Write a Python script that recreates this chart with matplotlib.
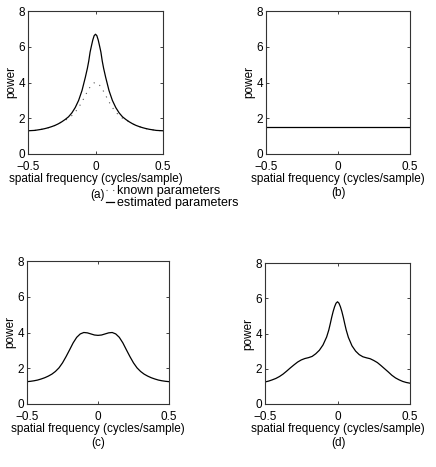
import matplotlib
matplotlib.use("Agg")
import matplotlib.pyplot as plt

plt.rcParams['font.family'] = ['Liberation Sans', 'DejaVu Sans']

# Spatial frequency grid for panel (a) (cycles/sample)
freq_a = [-0.5, -0.475, -0.45, -0.425, -0.4, -0.375, -0.35, -0.325, -0.3, -0.275,
          -0.25, -0.225, -0.2, -0.175, -0.15, -0.125, -0.1, -0.075, -0.06, -0.05,
          -0.04, -0.03, -0.02, -0.01, 0.0, 0.01, 0.02, 0.03, 0.04, 0.05, 0.06,
          0.075, 0.1, 0.125, 0.15, 0.175, 0.2, 0.225, 0.25, 0.275, 0.3, 0.325,
          0.35, 0.375, 0.4, 0.425, 0.45, 0.475, 0.5]
# (a) estimated parameters (solid)
est_a = [1.30, 1.31, 1.32, 1.35, 1.38, 1.42, 1.47, 1.53, 1.60, 1.69,
         1.80, 1.93, 2.08, 2.30, 2.60, 3.00, 3.55, 4.30, 4.80, 5.20,
         5.70, 6.05, 6.38, 6.62, 6.70, 6.62, 6.38, 6.05, 5.70, 5.20, 4.80,
         4.30, 3.55, 3.00, 2.60, 2.30, 2.08, 1.93, 1.80, 1.69, 1.60, 1.53,
         1.47, 1.42, 1.38, 1.35, 1.32, 1.31, 1.30]
# (a) known parameters (dotted)
known_a = [1.30, 1.31, 1.32, 1.35, 1.38, 1.42, 1.47, 1.53, 1.60, 1.69,
           1.80, 1.88, 2.00, 2.15, 2.35, 2.60, 2.92, 3.28, 3.50, 3.63,
           3.75, 3.85, 3.93, 3.98, 4.00, 3.98, 3.93, 3.85, 3.75, 3.63, 3.50,
           3.28, 2.92, 2.60, 2.35, 2.15, 2.00, 1.88, 1.80, 1.69, 1.60, 1.53,
           1.47, 1.42, 1.38, 1.35, 1.32, 1.31, 1.30]

# (b) flat spectrum
freq_b = [-0.5, 0.49]
power_b = [1.53, 1.53]

# (c) double-humped spectrum
freq_c = [-0.5, -0.475, -0.45, -0.425, -0.4, -0.375, -0.35, -0.325, -0.3, -0.275,
          -0.25, -0.225, -0.2, -0.175, -0.15, -0.125, -0.1, -0.075, -0.05, -0.025,
          0.0, 0.025, 0.05, 0.075, 0.1, 0.125, 0.15, 0.175, 0.2, 0.225,
          0.25, 0.275, 0.3, 0.325, 0.35, 0.375, 0.4, 0.425, 0.45, 0.475, 0.5]
power_c = [1.25, 1.27, 1.30, 1.34, 1.40, 1.47, 1.56, 1.67, 1.82, 2.02,
           2.30, 2.65, 3.03, 3.42, 3.73, 3.92, 4.00, 3.98, 3.92, 3.86,
           3.84, 3.86, 3.92, 3.98, 4.00, 3.92, 3.73, 3.42, 3.03, 2.65,
           2.30, 2.02, 1.82, 1.67, 1.56, 1.47, 1.40, 1.34, 1.30, 1.27, 1.25]

# (d) central peak with shoulders
freq_d = [-0.5, -0.475, -0.45, -0.425, -0.4, -0.375, -0.35, -0.325, -0.3, -0.275,
          -0.25, -0.225, -0.2, -0.175, -0.15, -0.125, -0.1, -0.075, -0.06, -0.05,
          -0.04, -0.03, -0.02, -0.01, 0.0, 0.01, 0.02, 0.03, 0.04, 0.05, 0.06,
          0.075, 0.1, 0.125, 0.15, 0.175, 0.2, 0.225, 0.25, 0.275, 0.3, 0.325,
          0.35, 0.375, 0.4, 0.425, 0.45, 0.475, 0.5]
power_d = [1.25, 1.30, 1.37, 1.45, 1.56, 1.70, 1.87, 2.05, 2.22, 2.38,
           2.50, 2.58, 2.63, 2.70, 2.85, 3.05, 3.35, 3.80, 4.20, 4.55,
           4.92, 5.25, 5.52, 5.72, 5.80, 5.72, 5.52, 5.25, 4.92, 4.55, 4.20,
           3.78, 3.30, 3.00, 2.80, 2.68, 2.62, 2.57, 2.47, 2.35, 2.18, 2.00,
           1.82, 1.63, 1.48, 1.37, 1.28, 1.22, 1.18]

xticks = [-0.5, 0, 0.5]
xticklabels = ['\u22120.5', '0', '0.5']
yticks = [0, 2, 4, 6, 8]

W, H = 436, 467
fig = plt.figure(figsize=(W / 100, H / 100), dpi=100)


def px_axes(left, top, right, bottom):
    return fig.add_axes([left / W, 1 - bottom / H, (right - left) / W, (bottom - top) / H])


def style(ax):
    ax.set_xlim(-0.5, 0.5)
    ax.set_ylim(0, 8)
    ax.set_xticks(xticks)
    ax.set_xticklabels(xticklabels)
    ax.set_yticks(yticks)
    ax.tick_params(direction='in', length=2.5, width=0.6, labelsize=8.5, pad=2,
                   top=True, right=True, colors='#222222', labelcolor='black')
    ax.tick_params(axis='x', pad=5)
    for s in ax.spines.values():
        s.set_linewidth(0.8)
        s.set_color('#333333')
    ax.set_xlabel('spatial frequency (cycles/sample)', fontsize=8.5, labelpad=0)
    ax.set_ylabel('power', fontsize=8.5, labelpad=1)


ax_a = px_axes(28, 11, 163, 154)
ax_b = px_axes(266, 11, 410, 154)
ax_c = px_axes(27, 261, 169, 404)
ax_d = px_axes(265, 263, 410, 404)

ka, = ax_a.plot(freq_a, known_a, linestyle=(0, (1, 5)), color='#555555', linewidth=0.8)
ea, = ax_a.plot(freq_a, est_a, '-', color='black', linewidth=0.9)
ax_b.plot(freq_b, power_b, '-', color='black', linewidth=0.9)
ax_c.plot(freq_c, power_c, '-', color='black', linewidth=0.9)
ax_d.plot(freq_d, power_d, '-', color='black', linewidth=0.9)

for ax in (ax_a, ax_b, ax_c, ax_d):
    style(ax)

# panel tags
fig.text(97 / W, 1 - 195 / H, '(a)', fontsize=8.5, ha='center', va='center')
fig.text(338 / W, 1 - 193 / H, '(b)', fontsize=8.5, ha='center', va='center')
fig.text(98 / W, 1 - 443 / H, '(c)', fontsize=8.5, ha='center', va='center')
fig.text(338 / W, 1 - 443 / H, '(d)', fontsize=8.5, ha='center', va='center')

fig.legend([ka, ea], ['known parameters', 'estimated parameters'],
           loc='upper left', bbox_to_anchor=(106 / W, 1 - 185 / H),
           frameon=False, fontsize=9, handlelength=0.6, handletextpad=0.3,
           labelspacing=0.0, borderpad=0, borderaxespad=0)

fig.savefig('out.png', dpi=100)
